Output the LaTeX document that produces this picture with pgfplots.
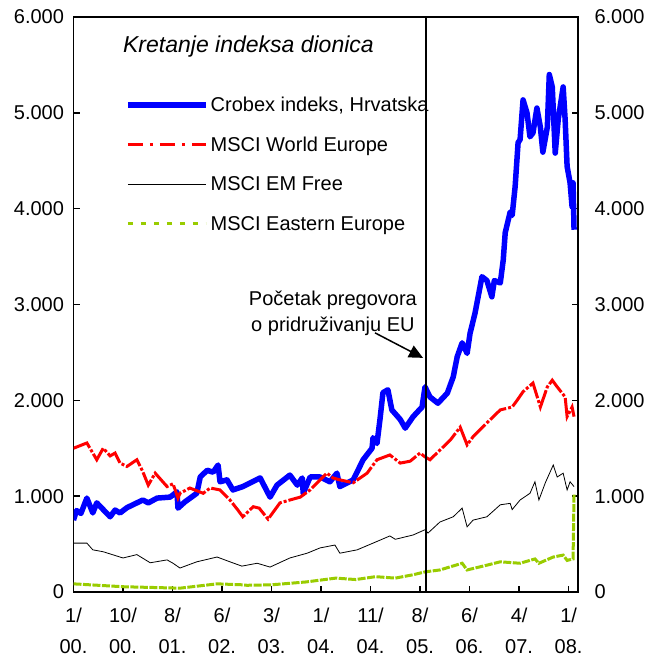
\documentclass[border=0pt]{standalone}
\usepackage{fontspec}
\setmainfont{Liberation Sans}
\usepackage{pgfplots}
\pgfplotsset{compat=1.18}
\usetikzlibrary{arrows.meta}
\definecolor{cblue}{RGB}{0,0,255}
\definecolor{cred}{RGB}{255,0,0}
\definecolor{cgreen}{RGB}{153,204,0}
\newcommand{\tf}{\fontsize{20bp}{24bp}\selectfont}
\begin{document}
\begin{tikzpicture}
\begin{axis}[name=ax,
  width=504.5bp, height=575bp, scale only axis,
  xmin=0, xmax=10.19, ymin=0, ymax=6000,
  axis line style={line width=1.6bp},
  every tick/.style={line width=1.6bp, black},
  tick align=inside, major tick length=6bp,
  xtick={0,1,2,3,4,5,6,7,8,9,10},
  xticklabels={{1/\\00.},{10/\\00.},{8/\\01.},{6/\\02.},{3/\\03.},{1/\\04.},{11/\\04.},{8/\\05.},{6/\\06.},{4/\\07.},{1/\\08.}},
  xtick pos=left,
  xticklabel style={align=center, font=\fontsize{20bp}{31bp}\selectfont, yshift=-12bp},
  ytick={0,1000,2000,3000,4000,5000,6000},
  yticklabel style={font=\tf, xshift=-6bp},
  /pgf/number format/1000 sep={.},
  /pgf/number format/assume math mode=true,
  legend image code/.code={\draw[#1] (0bp,0bp) -- (78bp,0bp);},
  legend style={draw=none, fill=none, font=\tf, at={(0.102,0.865)}, anchor=north west,
    row sep=20bp, column sep=0bp, inner sep=0pt, nodes={inner sep=2bp}},
  legend cell align=left,
]
\addplot[cblue, line width=5.5bp, line join=round] coordinates {
(0,750) (0.06,850) (0.15,820) (0.27,980) (0.39,825) (0.47,930) (0.60,860) (0.74,785)
(0.84,855) (0.94,825) (1.08,880) (1.20,910) (1.40,960) (1.51,930) (1.69,980) (1.95,990)
(2.09,1045) (2.11,875) (2.25,940) (2.49,1030) (2.56,1200) (2.70,1270) (2.82,1250) (2.92,1325)
(2.96,1150) (3.10,1170) (3.22,1065) (3.42,1100) (3.77,1190) (3.97,990) (4.11,1115) (4.37,1220)
(4.52,1115) (4.62,1190) (4.64,1030) (4.78,1200) (4.98,1200) (5.18,1150) (5.32,1240) (5.38,1100)
(5.65,1170) (5.85,1380) (6.03,1500) (6.05,1610) (6.13,1550) (6.19,1800) (6.25,2080) (6.35,2110)
(6.43,1900) (6.60,1800) (6.70,1710) (6.86,1830) (7.04,1930) (7.10,2140) (7.20,2035) (7.36,1970)
(7.55,2075) (7.67,2245) (7.75,2455) (7.85,2600) (7.95,2490) (8.01,2700) (8.11,2910) (8.25,3290)
(8.35,3250) (8.45,3080) (8.50,3250) (8.62,3225) (8.68,3465) (8.72,3750) (8.82,3965) (8.86,3930)
(8.92,4230) (8.98,4690) (9.02,4720) (9.08,5135) (9.16,5000) (9.22,4750) (9.28,4790) (9.36,5050)
(9.43,4850) (9.48,4590) (9.57,4850) (9.61,5400) (9.67,5270) (9.73,4580) (9.79,4930) (9.89,5270)
(9.93,4930) (9.97,4440) (10.03,4270) (10.07,4020) (10.09,4270) (10.11,3780)
};
\addlegendentry{Crobex indeks, Hrvatska}
\addplot[cred, line width=3bp, dash pattern=on 20bp off 2bp on 3bp off 2bp,
  legend image post style={dash pattern=on 15bp off 7bp on 3bp off 7bp}] coordinates {
(0,1500) (0.27,1555) (0.47,1380) (0.60,1500) (0.74,1420) (0.84,1450) (0.94,1345) (1.08,1310)
(1.28,1380) (1.40,1255) (1.51,1115) (1.65,1240) (1.89,1100) (2.01,1130) (2.11,980) (2.15,1030)
(2.35,1085) (2.62,1030) (2.76,1085) (2.96,1065) (3.16,960) (3.32,855) (3.42,785) (3.63,890)
(3.75,875) (3.93,760) (4.17,930) (4.37,960) (4.58,990) (4.78,1065) (4.98,1170) (5.12,1240)
(5.24,1190) (5.38,1170) (5.65,1140) (5.93,1240) (6.13,1380) (6.39,1430) (6.60,1345) (6.80,1365)
(7.00,1450) (7.10,1410) (7.20,1380) (7.40,1480) (7.61,1585) (7.81,1720) (7.95,1535) (8.07,1620)
(8.35,1765) (8.62,1900) (8.86,1930) (8.96,2000) (9.08,2090) (9.28,2180) (9.43,1930) (9.57,2140)
(9.67,2210) (9.77,2140) (9.93,2035) (9.97,1830) (10.07,1930) (10.11,1830)
};
\addlegendentry{MSCI World Europe}
\addplot[black, line width=0.8bp] coordinates {
(0,510) (0.27,510) (0.39,440) (0.60,420) (1.00,355) (1.28,390) (1.55,305) (1.89,335)
(2.01,300) (2.15,250) (2.49,315) (2.90,365) (3.16,315) (3.40,270) (3.71,300) (3.97,260)
(4.37,355) (4.72,405) (4.98,460) (5.28,490) (5.38,405) (5.73,440) (6.05,510) (6.39,585)
(6.50,550) (6.86,595) (7.10,650) (7.16,615) (7.40,730) (7.67,785) (7.85,875) (7.95,680)
(8.07,750) (8.35,785) (8.62,910) (8.82,925) (8.86,860) (9.02,960) (9.22,1030) (9.32,1150)
(9.40,960) (9.53,1140) (9.69,1325) (9.77,1200) (9.89,1240) (9.97,1065) (10.03,1150) (10.11,1100)
};
\addlegendentry{MSCI EM Free}
\addplot[cgreen, line width=3bp, dash pattern=on 8bp off 1.5bp,
  legend image post style={dash pattern=on 5bp off 8bp}] coordinates {
(0,85) (1.00,55) (2.15,40) (2.90,85) (3.42,75) (3.50,70) (4.00,75) (4.70,105)
(5.30,145) (5.70,130) (6.10,160) (6.50,145) (6.86,180) (7.10,210) (7.40,230) (7.85,300)
(7.95,230) (8.35,280) (8.62,315) (9.02,300) (9.32,345) (9.40,300) (9.69,365) (9.89,385)
(9.97,330) (10.09,345) (10.11,1030)
};
\addlegendentry{MSCI Eastern Europe}
\draw[black, line width=1.5bp] (axis cs:7.12,0) -- (axis cs:7.12,6000);
\draw[black, line width=1.5bp, -{Triangle[length=14bp,width=13bp]}] (axis cs:6.09,2704) -- (axis cs:7.06,2443);
\node[font=\fontsize{20bp}{26bp}\selectfont, align=center] at (axis cs:5.24,2912) {Početak pregovora\\o pridruživanju EU};
\node[font=\itshape\fontsize{23bp}{28bp}\selectfont, anchor=west, inner sep=0pt] at (rel axis cs:0.098,0.948) {Kretanje indeksa dionica};
\end{axis}
\begin{axis}[
  width=504.5bp, height=575bp, scale only axis,
  xmin=0, xmax=10.19, ymin=0, ymax=6000,
  axis y line*=right, hide x axis,
  axis line style={draw=none}, major tick length=0pt,
  ytick={0,1000,2000,3000,4000,5000,6000},
  yticklabel style={font=\tf, xshift=13bp},
  /pgf/number format/1000 sep={.},
  /pgf/number format/assume math mode=true,
]
\addplot[draw=none] coordinates {(0,0)};
\end{axis}
\pgfresetboundingbox
\path[use as bounding box] ([xshift=-73.5bp,yshift=-65bp]ax.south west) rectangle ([xshift=66bp,yshift=17bp]ax.north east);
\end{tikzpicture}
\end{document}
